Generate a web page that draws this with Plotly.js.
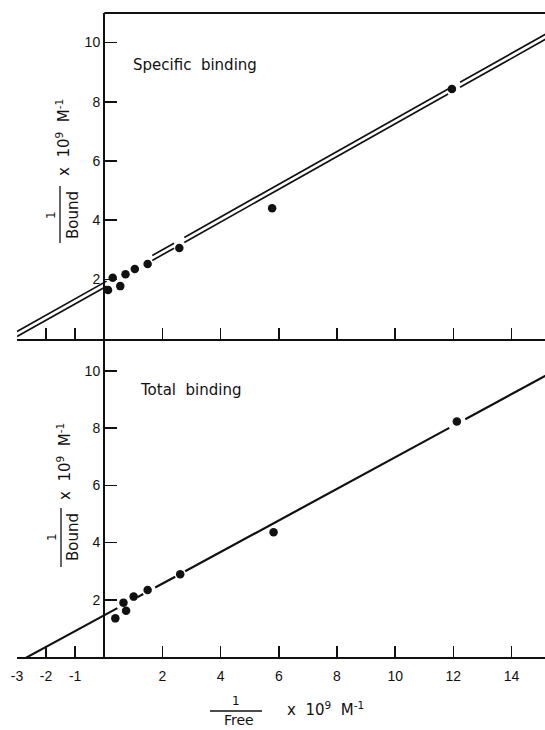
<!DOCTYPE html>
<html>
<head>
<meta charset="utf-8">
<script src="https://cdn.plot.ly/plotly-3.0.1.min.js"></script>
<style>
  html, body { margin: 0; padding: 0; background: #fff; }
  #chart { width: 545px; height: 730px; }
</style>
</head>
<body>
<div id="chart"></div>
<script>
// ---- Data ----
// Specific binding (upper panel)
const specFreeInv  = [0.13, 0.29, 0.55, 0.73, 1.05, 1.49, 2.58, 5.77, 11.95];
const specBoundInv = [1.64, 2.05, 1.77, 2.17, 2.35, 2.52, 3.06, 4.40, 8.43];
// Total binding (lower panel)
const totalFreeInv  = [0.38, 0.66, 0.75, 1.01, 1.49, 2.61, 5.82, 12.12];
const totalBoundInv = [1.35, 1.90, 1.62, 2.11, 2.34, 2.89, 4.36, 8.23];

// Fitted straight lines (slope, intercept) and the x-extents of the drawn pieces
const specFitUpper = [0.553, 1.895];
const specFitLower = [0.553, 1.725];
const specPieces   = [[-3.0, 0.08], [1.65, 2.40], [2.75, 11.82], [12.23, 15.3]];
const totalFit     = [0.552, 1.46];
const totalPieces  = [[-2.70, 0.45], [1.13, 1.34], [1.75, 2.44], [2.78, 11.86], [12.41, 15.3]];

// Tick labels
const xTickVals = [-3, -2, -1, 2, 4, 6, 8, 10, 12, 14];
const xTickText = ['-3', '-2', '-1', '2', '4', '6', '8', '10', '12', '14'];
const yTickVals = [2, 4, 6, 8, 10];
const yTickText = ['2', '4', '6', '8', '10'];

// ---- Build line traces from the fit parameters ----
function fitLine(fit, pieces) {
  const xs = [], ys = [];
  pieces.forEach(function (p) {
    xs.push(p[0], p[1], null);
    ys.push(fit[0] * p[0] + fit[1], fit[0] * p[1] + fit[1], null);
  });
  return { x: xs, y: ys };
}

const W = 545, H = 730;
const M = { l: 17, r: 0, t: 13, b: 73 };
const PW = W - M.l - M.r, PH = H - M.t - M.b;
function px(x) { return (x - M.l) / PW; }
function py(y) { return (H - M.b - y) / PH; }

const split = py(338.5);
const ink = '#111';
const tickFont = { family: 'Liberation Sans, Arial, sans-serif', size: 14, color: ink };

const lu = fitLine(specFitUpper, specPieces);
const ll = fitLine(specFitLower, specPieces);
const lt = fitLine(totalFit, totalPieces);

const traces = [
  { x: lu.x, y: lu.y, xaxis: 'x2', yaxis: 'y2', mode: 'lines', line: { color: ink, width: 1.7 }, hoverinfo: 'skip', connectgaps: false },
  { x: ll.x, y: ll.y, xaxis: 'x2', yaxis: 'y2', mode: 'lines', line: { color: ink, width: 1.7 }, hoverinfo: 'skip', connectgaps: false },
  { x: specFreeInv, y: specBoundInv, xaxis: 'x2', yaxis: 'y2', mode: 'markers', marker: { color: ink, size: 8.5 } },
  { x: lt.x, y: lt.y, xaxis: 'x', yaxis: 'y', mode: 'lines', line: { color: ink, width: 2.2 }, hoverinfo: 'skip', connectgaps: false },
  { x: totalFreeInv, y: totalBoundInv, xaxis: 'x', yaxis: 'y', mode: 'markers', marker: { color: ink, size: 8.5 } }
];

const xRange = [-3.0, 15.15];
const yPos = px(104);

function xAxis(anchor, labels) {
  return {
    domain: [0, 1], range: xRange, anchor: anchor, showgrid: false, zeroline: false,
    showline: true, linecolor: ink, linewidth: 2,
    ticks: 'inside', ticklen: 11, tickwidth: 1.5, tickcolor: ink,
    tickmode: 'array', tickvals: xTickVals, ticktext: xTickText,
    showticklabels: labels, tickfont: tickFont, ticklabelstandoff: 5
  };
}
function yAxis(domain, range) {
  return {
    domain: domain, range: range, anchor: 'free', position: yPos, showgrid: false, zeroline: false,
    showline: true, linecolor: ink, linewidth: 2,
    ticks: 'inside', ticklen: 12, tickwidth: 1.5, tickcolor: ink,
    tickmode: 'array', tickvals: yTickVals, ticktext: yTickText, tickfont: tickFont
  };
}

function ann(text, x, y, size, angle) {
  return {
    text: text, xref: 'paper', yref: 'paper', x: px(x), y: py(y),
    xanchor: 'center', yanchor: 'middle', showarrow: false, textangle: angle || 0,
    font: { family: 'DejaVu Sans, sans-serif', size: size, color: ink }
  };
}
function pline(x0, y0, x1, y1) {
  return { type: 'line', xref: 'paper', yref: 'paper', x0: px(x0), y0: py(y0), x1: px(x1), y1: py(y1),
           line: { color: ink, width: 1.3 } };
}

const unitText = 'x\u00a0 10<sup>9</sup>\u00a0 M<sup>-1</sup>';

const layout = {
  width: W, height: H, margin: M, paper_bgcolor: '#fff', plot_bgcolor: '#fff',
  showlegend: false,
  xaxis: xAxis('y', true),
  yaxis: yAxis([0, split], [0, 11.13]),
  xaxis2: xAxis('y2', false),
  yaxis2: yAxis([split, 1], [0, 11.0]),
  annotations: [
    ann('Specific\u00a0 binding', 195, 65, 15),
    ann('Total\u00a0 binding', 190, 390, 15),
    // y titles (upper)
    ann('1', 51, 215, 12, -90),
    ann('Bound', 73, 215, 15, -90),
    ann(unitText, 63, 138, 15, -90),
    // y titles (lower)
    ann('1', 52, 537, 12, -90),
    ann('Bound', 73, 537, 15, -90),
    ann(unitText, 64, 462, 15, -90),
    // x title
    ann('1', 236, 701, 12),
    ann('Free', 239, 720, 14),
    ann(unitText, 325, 709, 15)
  ],
  shapes: [
    // upper frame line
    { type: 'line', xref: 'x2', yref: 'paper', x0: 0, x1: 15.3, y0: 1, y1: 1, line: { color: ink, width: 2 } },
    // fraction bars
    pline(60, 186, 60, 243),
    pline(61, 508, 61, 567),
    pline(210, 711, 262, 711)
  ]
};

Plotly.newPlot('chart', traces, layout, { staticPlot: true, displayModeBar: false });
</script>
</body>
</html>
